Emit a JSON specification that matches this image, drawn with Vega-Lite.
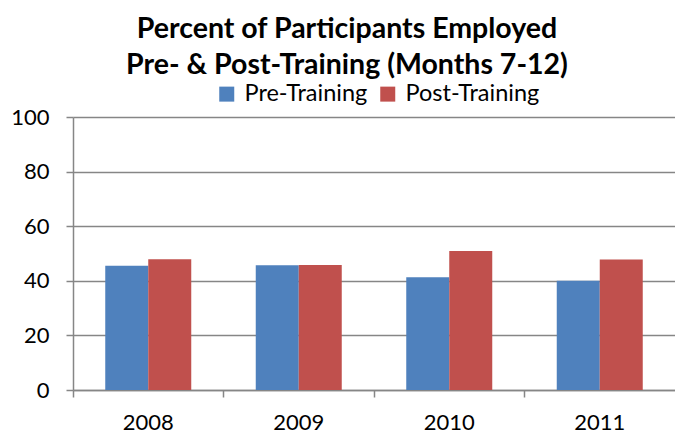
{
  "$schema": "https://vega.github.io/schema/vega-lite/v6.json",
  "width": 602,
  "height": 273,
  "autosize": {"type": "none"},
  "padding": {"left": 73, "top": 117, "right": 0, "bottom": 46},
  "background": "white",
  "config": {
    "font": "Lato",
    "view": {"stroke": null}
  },
  "title": {
    "text": ["Percent of Participants Employed", "Pre- & Post-Training (Months 7-12)"],
    "fontSize": 28.5,
    "fontWeight": "bold",
    "font": "Lato",
    "color": "#000000",
    "lineHeight": 36,
    "anchor": "middle",
    "frame": "group",
    "dx": -27,
    "offset": 3
  },
  "data": {
    "values": [
      {"year": "2008", "series": "Pre-Training", "value": 45.5},
      {"year": "2008", "series": "Post-Training", "value": 47.9},
      {"year": "2009", "series": "Pre-Training", "value": 45.7},
      {"year": "2009", "series": "Post-Training", "value": 45.8},
      {"year": "2010", "series": "Pre-Training", "value": 41.3},
      {"year": "2010", "series": "Post-Training", "value": 50.9},
      {"year": "2011", "series": "Pre-Training", "value": 40.0},
      {"year": "2011", "series": "Post-Training", "value": 47.8}
    ]
  },
  "mark": {"type": "bar"},
  "encoding": {
    "x": {
      "field": "year",
      "type": "nominal",
      "title": null,
      "scale": {"paddingInner": 0, "paddingOuter": 0},
      "axis": {
        "labelAngle": 0,
        "labelFontSize": 22,
        "labelColor": "#000000",
        "labelPadding": 15,
        "bandPosition": 0,
        "tickSize": 7,
        "tickColor": "#868686",
        "tickWidth": 1.5,
        "domainColor": "#868686",
        "domainWidth": 1.5,
        "grid": false
      }
    },
    "xOffset": {
      "field": "series",
      "type": "nominal",
      "sort": ["Pre-Training", "Post-Training"],
      "scale": {"paddingInner": 0, "paddingOuter": 0.75}
    },
    "y": {
      "field": "value",
      "type": "quantitative",
      "title": null,
      "scale": {"domain": [0, 100], "nice": false},
      "axis": {
        "values": [0, 20, 40, 60, 80, 100],
        "labelFontSize": 22,
        "labelColor": "#000000",
        "labelPadding": 17,
        "tickSize": 7,
        "tickColor": "#868686",
        "tickWidth": 1.5,
        "domainColor": "#868686",
        "domainWidth": 1.5,
        "grid": true,
        "gridColor": "#868686",
        "gridWidth": 1.5
      }
    },
    "color": {
      "field": "series",
      "type": "nominal",
      "sort": ["Pre-Training", "Post-Training"],
      "scale": {"domain": ["Pre-Training", "Post-Training"], "range": ["#4F81BD", "#C0504D"]},
      "legend": {
        "title": null,
        "orient": "none",
        "direction": "horizontal",
        "legendX": 142,
        "legendY": -35,
        "symbolType": "square",
        "symbolSize": 225,
        "symbolStrokeWidth": 0,
        "symbolOpacity": 1,
        "labelFontSize": 23.5,
        "labelColor": "#000000",
        "labelOffset": 6,
        "columnPadding": 8
      }
    }
  }
}
